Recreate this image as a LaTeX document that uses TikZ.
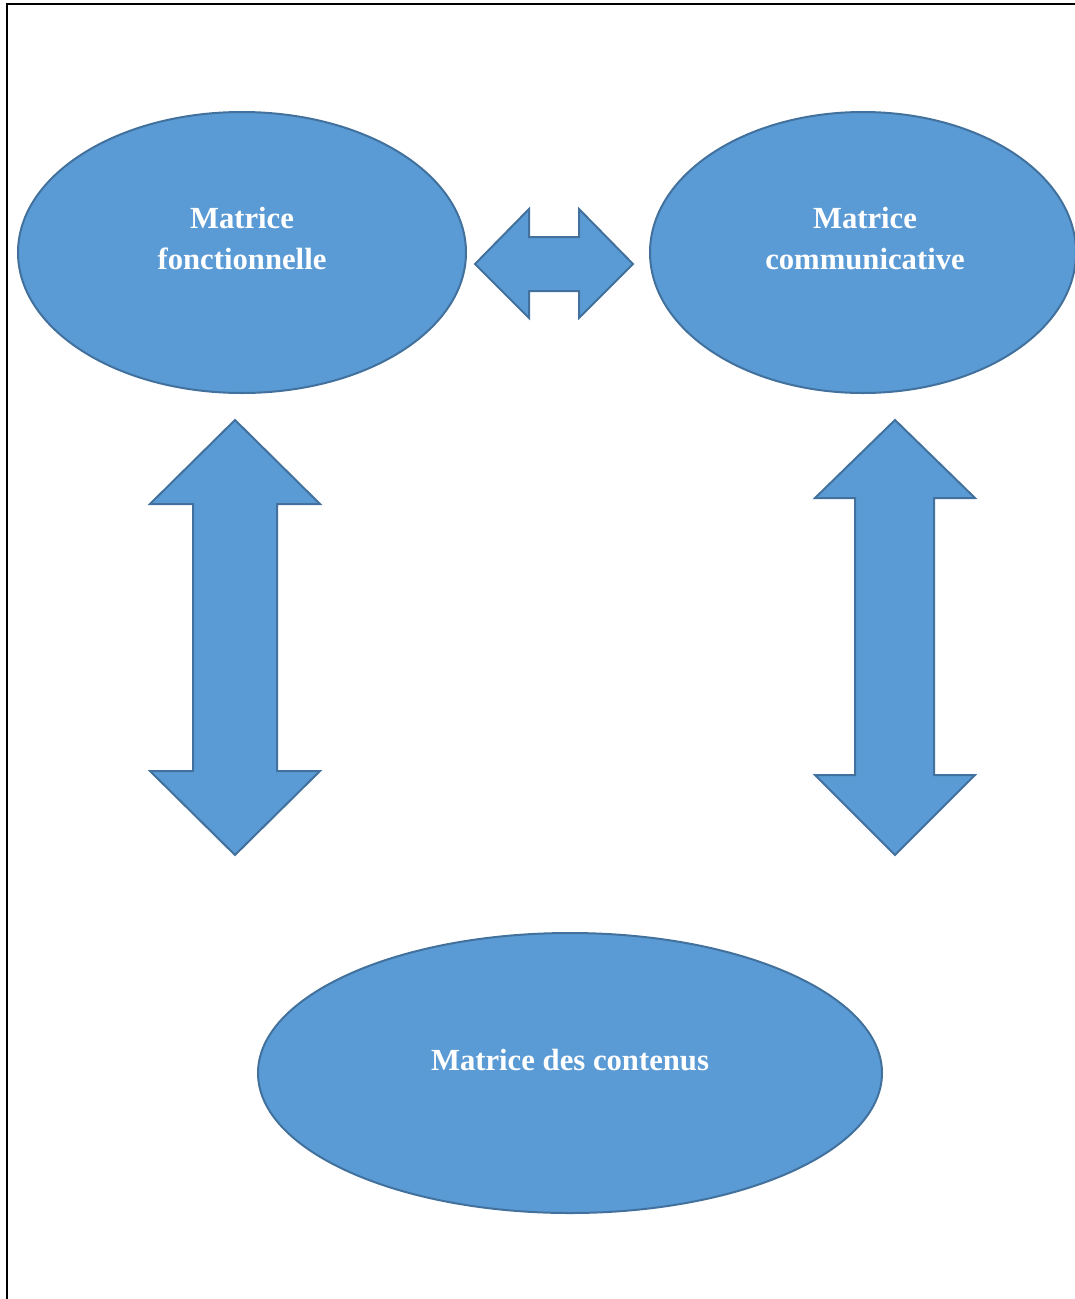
\documentclass[tikz,border=0pt]{standalone}
\usepackage{fontspec}
\setmainfont{Liberation Serif}
\usetikzlibrary{shapes.geometric}
\definecolor{fillblue}{HTML}{5B9BD5}
\definecolor{edgeblue}{HTML}{41719C}
\tikzset{
  shapeblue/.style={fill=fillblue,draw=edgeblue,line width=2pt,line join=miter},
  label/.style={text=white,font=\fontsize{30.7}{41}\selectfont\bfseries,anchor=base,inner sep=0pt}
}
\begin{document}
\begin{tikzpicture}[x=1pt,y=-1pt]
\useasboundingbox (0,0) rectangle (1075,1299);
% frame
\draw[line width=2pt] (7,1299) -- (7,4) -- (1076,4);
% ellipses
\begin{scope}
\clip (0,0) rectangle (1075,1299);
\draw[shapeblue] (242,252.5) ellipse [x radius=224, y radius=140.5];
\draw[shapeblue] (863,252.5) ellipse [x radius=213, y radius=140.5];
\draw[shapeblue] (570,1073) ellipse [x radius=312, y radius=140];
\end{scope}
\coordinate (ef) at (242,252.5);
\coordinate (ec) at (863,252.5);
\coordinate (ed) at (570,1073);
% horizontal double arrow
\draw[shapeblue] (475,264) -- (529,209) -- (529,237) -- (579,237) -- (579,209) -- (633,264)
  -- (579,318) -- (579,291) -- (529,291) -- (529,318) -- cycle;
% left vertical double arrow
\draw[shapeblue] (235,420) -- (320,504) -- (277,504) -- (277,771) -- (320,771) -- (235,855)
  -- (150,771) -- (193,771) -- (193,504) -- (150,504) -- cycle;
% right vertical double arrow
\draw[shapeblue] (895,420) -- (975,498) -- (934,498) -- (934,775) -- (975,775) -- (895,855)
  -- (815,775) -- (855,775) -- (855,498) -- (815,498) -- cycle;
% labels
\node[label] (f1) at (242,228) {Matrice};
\node[label] (f2) at (242,269.5) {fonctionnelle};
\node[label] (c1) at (865,228) {Matrice};
\node[label] (c2) at (865,269.5) {communicative};
\node[label] (d1) at (570,1070.5) {Matrice des contenus};
\end{tikzpicture}
\end{document}
